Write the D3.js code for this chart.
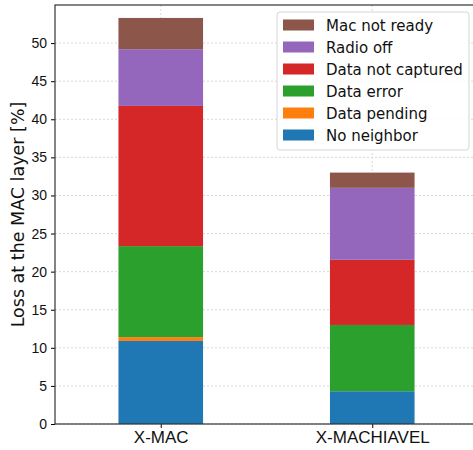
<!DOCTYPE html>
<html>
<head>
<meta charset="utf-8">
<script src="https://cdn.jsdelivr.net/npm/d3@7"></script>
<style>
  body { margin: 0; background: #fff; }
  svg { font-family: "DejaVu Sans", sans-serif; }
</style>
</head>
<body>
<div id="chart"></div>
<script>
// data
var protocols = ["X-MAC", "X-MACHIAVEL"];
var causes = ["No neighbor", "Data pending", "Data error", "Data not captured", "Radio off", "Mac not ready"];
var noNeighbor      = [10.9, 4.3];
var dataPending     = [0.5, 0.0];
var dataError       = [11.95, 8.7];
var dataNotCaptured = [18.4, 8.55];
var radioOff        = [7.45, 9.45];
var macNotReady     = [4.1, 2.0];
var colors = ["#1f77b4", "#ff7f0e", "#2ca02c", "#d62728", "#9467bd", "#8c564b"];
var yTicks = [0, 5, 10, 15, 20, 25, 30, 35, 40, 45, 50];

var width = 473, height = 450;
var margin = {top: 5, right: -5, bottom: 26, left: 55};

var svg = d3.select("#chart").append("svg")
    .attr("width", width)
    .attr("height", height);

var iw = width - margin.left - margin.right,
    ih = height - margin.top - margin.bottom;

var g = svg.append("g").attr("transform", "translate(" + margin.left + "," + margin.top + ")");

// build rows for stack
var rows = protocols.map(function(p, i) {
    return {
        proto: p,
        "No neighbor": noNeighbor[i],
        "Data pending": dataPending[i],
        "Data error": dataError[i],
        "Data not captured": dataNotCaptured[i],
        "Radio off": radioOff[i],
        "Mac not ready": macNotReady[i]
    };
});
var series = d3.stack().keys(causes)(rows);

var x = d3.scaleLinear().domain([-0.5, 1.5]).range([0, iw]);
var y = d3.scaleLinear().domain([0, 55]).range([ih, 0]);
var barW = 0.4;

// grid
g.append("g").selectAll("line").data(yTicks).enter().append("line")
    .attr("x1", 0).attr("x2", iw)
    .attr("y1", d => y(d)).attr("y2", d => y(d))
    .attr("stroke", "#cfcfcf").attr("stroke-width", 0.8).attr("stroke-dasharray", "2,2");
g.append("g").selectAll("line").data(protocols).enter().append("line")
    .attr("x1", (d, i) => x(i)).attr("x2", (d, i) => x(i))
    .attr("y1", 0).attr("y2", ih)
    .attr("stroke", "#cfcfcf").attr("stroke-width", 0.8).attr("stroke-dasharray", "2,2");

// bars
series.forEach(function(s, k) {
    g.append("g").attr("fill", colors[k]).selectAll("rect").data(s).enter().append("rect")
        .attr("x", (d, i) => x(i - barW / 2))
        .attr("width", x(barW) - x(0))
        .attr("y", d => y(d[1]))
        .attr("height", d => y(d[0]) - y(d[1]));
});

// axes
var yAxis = g.append("g").call(d3.axisLeft(y).tickValues(yTicks).tickSize(4).tickPadding(4));
yAxis.selectAll("text").attr("font-size", 14).attr("fill", "#111");
var xAxis = g.append("g").attr("transform", "translate(0," + ih + ")")
    .call(d3.axisBottom(x).tickValues([0, 1]).tickFormat(i => protocols[i]).tickSize(4).tickPadding(3));
xAxis.selectAll("text").attr("font-size", 17).attr("fill", "#111");
svg.selectAll(".domain").remove();

// frame
g.append("rect").attr("x", 0).attr("y", 0).attr("width", iw).attr("height", ih)
    .attr("fill", "none").attr("stroke", "#333").attr("stroke-width", 1.2);

svg.append("text")
    .attr("transform", "translate(24," + (margin.top + ih / 2) + ") rotate(-90)")
    .attr("text-anchor", "middle")
    .attr("font-size", 17.5).attr("fill", "#111")
    .text("Loss at the MAC layer [%]");

// legend, top entry first
var leg = svg.append("g").attr("transform", "translate(277,12)");
leg.append("rect").attr("width", 192).attr("height", 138).attr("rx", 3)
    .attr("fill", "#fff").attr("fill-opacity", 0.85).attr("stroke", "#d6d6d6");
var legItems = causes.slice().reverse();
legItems.forEach(function(c, i) {
    var k = causes.indexOf(c);
    var row = leg.append("g").attr("transform", "translate(0," + (13 + i * 22) + ")");
    row.append("rect").attr("x", 6).attr("y", -5.5).attr("width", 31).attr("height", 11).attr("fill", colors[k]);
    row.append("text").attr("x", 49).attr("y", 5.5).attr("font-size", 15).attr("fill", "#111").text(c);
});
</script>
</body>
</html>
